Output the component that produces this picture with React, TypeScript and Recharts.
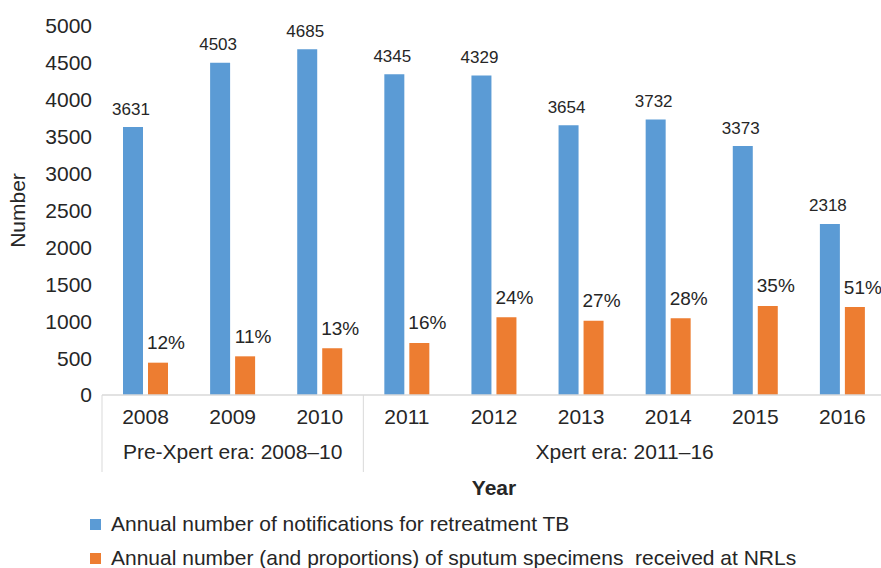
import { BarChart, Bar, XAxis, YAxis, Legend, LabelList } from 'recharts';

const years = ['2008', '2009', '2010', '2011', '2012', '2013', '2014', '2015', '2016'];
const notifications = [3631, 4503, 4685, 4345, 4329, 3654, 3732, 3373, 2318];
const specimens = [438, 524, 633, 705, 1053, 1007, 1039, 1206, 1192];
const proportions = ['12%', '11%', '13%', '16%', '24%', '27%', '28%', '35%', '51%'];
const yTicks = [0, 500, 1000, 1500, 2000, 2500, 3000, 3500, 4000, 4500, 5000];

const groups = [
  { label: 'Pre-Xpert era: 2008\u201310', start: 0, end: 2 },
  { label: 'Xpert era: 2011\u201316', start: 3, end: 8 },
];

const seriesNames = {
  notifications: 'Annual number of notifications for retreatment TB',
  specimens: 'Annual number (and proportions) of sputum specimens  received at NRLs',
};

const BLUE = '#5B9BD5';
const ORANGE = '#ED7D31';
const TEXT = '#262626';
const AXIS = '#d9d9d9';
const FONT = '"Liberation Sans", Arial, sans-serif';

const data = years.map((year, i) => ({
  year,
  notifications: notifications[i],
  specimens: specimens[i],
  pct: proportions[i],
}));

// year tick + group separators + group labels under the axis
function YearTick(props: any) {
  const { x, y, payload, index } = props;
  const off = payload?.offset ?? 0;
  const items: any[] = [
    <text key="t" x={x} y={y + 21} textAnchor="middle" dominantBaseline="central" fontSize={21} fill={TEXT} fontFamily={FONT}>
      {payload.value}
    </text>,
  ];
  groups.forEach((g, gi) => {
    if (index === g.start) {
      items.push(<line key={'s' + gi} x1={x - off} x2={x - off} y1={y} y2={y + 77} stroke={AXIS} />);
    }
    if (index === g.end && gi === groups.length - 1) {
      items.push(<line key={'e' + gi} x1={x + off} x2={x + off} y1={y} y2={y + 77} stroke={AXIS} />);
    }
    const mid = (g.start + g.end) / 2;
    if (index === Math.floor(mid)) {
      const cx = Number.isInteger(mid) ? x : x + off;
      items.push(
        <text key={'g' + gi} x={cx} y={y + 56} textAnchor="middle" dominantBaseline="central" fontSize={21} fill={TEXT} fontFamily={FONT}>
          {g.label}
        </text>
      );
    }
  });
  return <g>{items}</g>;
}

const CountLabel = (props: any) => {
  const { x, y, width, value } = props;
  return (
    <text x={x + width / 2 - 2} y={y - 18} textAnchor="middle" dominantBaseline="central" fontSize={17} fill={TEXT} fontFamily={FONT}>
      {value}
    </text>
  );
};

const PctLabel = (props: any) => {
  const { x, y, width, value } = props;
  return (
    <text x={x + width / 2 + 8} y={y - 20} textAnchor="middle" dominantBaseline="central" fontSize={19} fill={TEXT} fontFamily={FONT}>
      {value}
    </text>
  );
};

const LegendBox = () => (
  <div style={{ paddingTop: 24, paddingLeft: 90, fontFamily: FONT, fontSize: 21, color: TEXT, height: 54 }}>
    {[
      { c: BLUE, t: seriesNames.notifications },
      { c: ORANGE, t: seriesNames.specimens },
    ].map((it, i) => (
      <div key={i} style={{ display: 'flex', alignItems: 'center', height: 20, marginBottom: i === 0 ? 14 : 0, whiteSpace: 'pre' }}>
        <span style={{ display: 'inline-block', width: 11, height: 11, background: it.c, marginRight: 10 }} />
        <span>{it.t}</span>
      </div>
    ))}
  </div>
);

export default function App() {
  return (
    <div style={{ position: 'absolute', left: 0, top: 0, width: 881, height: 568, overflow: 'hidden', background: '#fff' }}>
      <BarChart
        width={900}
        height={568}
        data={data}
        margin={{ top: 26, right: 14, left: 0, bottom: 0 }}
        barSize={20}
        barGap={5}
      >
        <XAxis
          dataKey="year"
          height={95}
          tickLine={false}
          tickSize={0}
          tickMargin={0}
          axisLine={{ stroke: AXIS, strokeWidth: 1.5 }}
          tick={<YearTick />}
          interval={0}
          label={{
            content: (p: any) => {
              const vb = p.viewBox;
              return (
                <text x={vb.x + vb.width / 2} y={vb.y + 92} textAnchor="middle" dominantBaseline="central" fontSize={21} fontWeight="bold" fill={TEXT} fontFamily={FONT}>
                  Year
                </text>
              );
            },
          }}
        />
        <YAxis
          width={102}
          domain={[0, 5000]}
          ticks={yTicks}
          axisLine={false}
          tickLine={false}
          tickMargin={4}
          tick={{ fontSize: 21, fill: TEXT, fontFamily: FONT }}
          label={{
            content: (p: any) => {
              const vb = p.viewBox;
              const cy = vb.y + vb.height / 2;
              return (
                <text x={17} y={cy} transform={`rotate(-90, 17, ${cy})`} textAnchor="middle" dominantBaseline="central" fontSize={21} fill={TEXT} fontFamily={FONT}>
                  Number
                </text>
              );
            },
          }}
        />
        <Legend verticalAlign="bottom" align="left" content={<LegendBox />} />
        <Bar dataKey="notifications" name={seriesNames.notifications} fill={BLUE} isAnimationActive={false}>
          <LabelList dataKey="notifications" content={<CountLabel />} />
        </Bar>
        <Bar dataKey="specimens" name={seriesNames.specimens} fill={ORANGE} isAnimationActive={false}>
          <LabelList dataKey="pct" content={<PctLabel />} />
        </Bar>
      </BarChart>
    </div>
  );
}
